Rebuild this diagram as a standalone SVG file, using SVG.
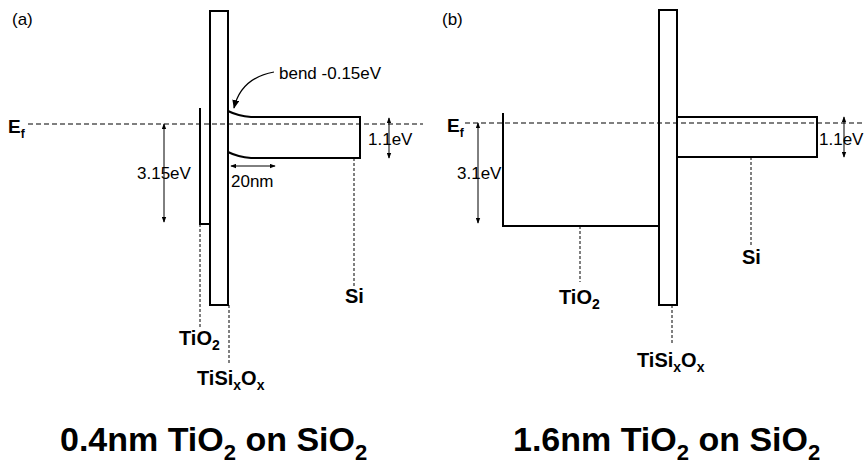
<svg xmlns="http://www.w3.org/2000/svg" width="864" height="471" viewBox="0 0 864 471">
<style>
text{font-family:"Liberation Sans",Arial,sans-serif;fill:#000}
.r{font-size:17px}
.b{font-size:20px;font-weight:bold}
.t{font-size:34px;font-weight:bold}
.ef{font-size:19px;font-weight:bold}
.band{fill:none;stroke:#000;stroke-width:2}
.dash{fill:none;stroke:#000;stroke-width:1.2;stroke-dasharray:5,3}
.lead{fill:none;stroke:#000;stroke-width:1;stroke-dasharray:3,2}
.arr{fill:none;stroke:#000;stroke-width:1;marker-start:url(#ah);marker-end:url(#ah)}
</style>
<defs>
<marker id="ah" viewBox="0 0 8 6" refX="7" refY="3" markerWidth="6" markerHeight="5" markerUnits="userSpaceOnUse" orient="auto-start-reverse"><path d="M0,0 L8,3 L0,6 Z" fill="#000"/></marker>
<marker id="ah2" viewBox="0 0 10 8" refX="9" refY="4" markerWidth="9" markerHeight="7" markerUnits="userSpaceOnUse" orient="auto"><path d="M0,0 L10,4 L0,8 Z" fill="#000"/></marker>
</defs>
<rect width="864" height="471" fill="#fff"/>

<!-- Panel (a) -->
<g id="panel-a-label"><text class="r" x="12" y="25">(a)</text></g>
<g id="a-ef"><text class="ef" x="8" y="133">E<tspan font-size="12" dy="5">f</tspan></text></g>
<g id="a-tio2">
<path class="band" d="M200,108 V224 H210"/>
<text class="b" x="179" y="345">TiO<tspan font-size="14" dy="5">2</tspan></text>
</g>
<g id="a-tisixox">
<rect class="band" x="210" y="11" width="18" height="294"/>
<text class="b" x="197" y="385">TiSi<tspan font-size="14" dy="5">x</tspan><tspan dy="-5">O</tspan><tspan font-size="14" dy="5">x</tspan></text>
</g>
<g id="a-si">
<path class="band" d="M228,111 Q238,116 251,117 H360 V158 H251 Q238,157 228,152"/>
<text class="b" x="345" y="303">Si</text>
</g>
<g id="a-bend"><text class="r" x="279" y="79">bend -0.15eV</text></g>
<g id="a-315"><text class="r" x="137" y="179">3.15eV</text></g>
<g id="a-11"><text class="r" x="368" y="145">1.1eV</text></g>
<g id="a-20nm"><text class="r" x="231" y="187">20nm</text></g>
<g id="a-title"><text class="t" x="60" y="451">0.4nm TiO<tspan font-size="22" dy="9">2</tspan><tspan dy="-9"> on SiO</tspan><tspan font-size="22" dy="9">2</tspan></text></g>

<!-- Panel (b) -->
<g id="panel-b-label"><text class="r" x="442" y="25">(b)</text></g>
<g id="b-ef"><text class="ef" x="447" y="132">E<tspan font-size="12" dy="5">f</tspan></text></g>
<g id="b-tio2">
<path class="band" d="M503,113 V226 H659"/>
<text class="b" x="559" y="304">TiO<tspan font-size="14" dy="5">2</tspan></text>
</g>
<g id="b-tisixox">
<rect class="band" x="659" y="10" width="18" height="295"/>
<text class="b" x="637" y="367">TiSi<tspan font-size="14" dy="5">x</tspan><tspan dy="-5">O</tspan><tspan font-size="14" dy="5">x</tspan></text>
</g>
<g id="b-si">
<rect class="band" x="677" y="117" width="140" height="40"/>
<text class="b" x="742" y="264">Si</text>
</g>
<g id="b-31"><text class="r" x="457" y="179">3.1eV</text></g>
<g id="b-11"><text class="r" x="819" y="145">1.1eV</text></g>
<g id="b-title"><text class="t" x="513" y="451">1.6nm TiO<tspan font-size="22" dy="9">2</tspan><tspan dy="-9"> on SiO</tspan><tspan font-size="22" dy="9">2</tspan></text></g>

<g id="connectors">
<line class="dash" x1="28" y1="124" x2="423" y2="124"/>
<line class="dash" x1="465" y1="123" x2="864" y2="123"/>
<line class="lead" x1="200" y1="224" x2="200" y2="327"/>
<line class="lead" x1="229" y1="305" x2="229" y2="363"/>
<line class="lead" x1="354" y1="158" x2="354" y2="287"/>
<line class="lead" x1="580" y1="226" x2="580" y2="282"/>
<line class="lead" x1="751" y1="157" x2="751" y2="245"/>
<line class="lead" x1="672" y1="305" x2="672" y2="345"/>
<line class="arr" x1="164" y1="124" x2="164" y2="222"/>
<line class="arr" x1="389" y1="118" x2="389" y2="158"/>
<line class="arr" x1="231" y1="166" x2="275" y2="166"/>
<line class="arr" x1="478" y1="123" x2="478" y2="223"/>
<line class="arr" x1="844" y1="117" x2="844" y2="157"/>
<path d="M274,72 Q241,78 234,108" fill="none" stroke="#000" stroke-width="1.2" marker-end="url(#ah2)"/>
</g>
</svg>
